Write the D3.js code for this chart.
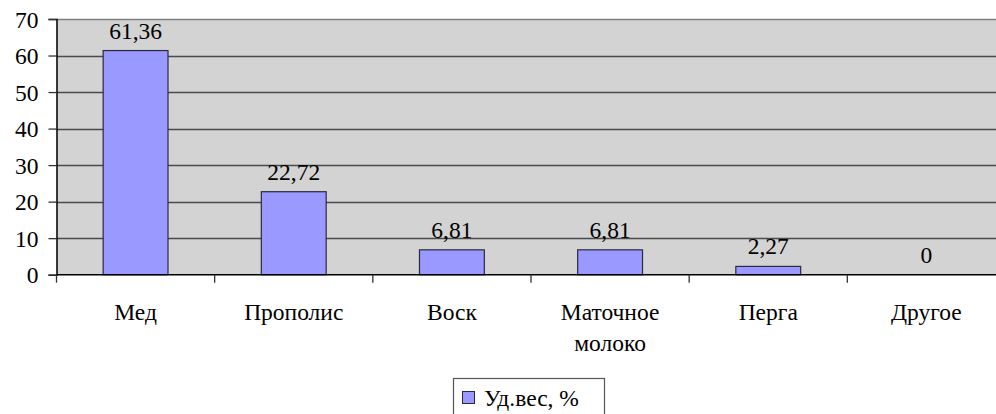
<!DOCTYPE html>
<html>
<head>
<meta charset="utf-8">
<script src="https://cdn.jsdelivr.net/npm/d3@7"></script>
<style>
  html, body { margin: 0; padding: 0; background: #fff; }
  svg { display: block; }
  svg text { font-family: "Liberation Serif", Tinos, "Times New Roman", Times, "DejaVu Serif", serif !important; fill: #000; }
</style>
</head>
<body>
<svg id="chart" width="996" height="414"></svg>
<script>
// Categories, values and axis ticks
const categories = ["Мед", "Прополис", "Воск", "Маточное молоко", "Перга", "Другое"];
const values = [61.36, 22.72, 6.81, 6.81, 2.27, 0];
const valueLabels = ["61,36", "22,72", "6,81", "6,81", "2,27", "0"];
const yTicks = [0, 10, 20, 30, 40, 50, 60, 70];
const seriesName = "Уд.вес, %";

const FONT = "'Liberation Serif', Tinos, 'Times New Roman', Times, 'DejaVu Serif', serif";
const FS = 23.5;

const svg = d3.select("#chart");
const plot = { left: 56.5, right: 1005.5, top: 19, bottom: 274.7 };

const x = d3.scaleBand()
  .domain(categories)
  .range([plot.left, plot.right])
  .paddingInner(0.59)
  .paddingOuter(0.295);
const step = x.step();

const y = d3.scaleLinear().domain([0, 70]).range([plot.bottom, plot.top]);

// Plot background
svg.append("rect")
  .attr("x", plot.left).attr("y", plot.top)
  .attr("width", plot.right - plot.left).attr("height", plot.bottom - plot.top)
  .attr("fill", "#d3d3d3");

// Horizontal gridlines
svg.append("g").selectAll("line")
  .data(yTicks.filter(d => d > 0))
  .join("line")
  .attr("x1", plot.left).attr("x2", plot.right)
  .attr("y1", d => Math.round(y(d)) + 0.5).attr("y2", d => Math.round(y(d)) + 0.5)
  .attr("stroke", d => d === 70 ? "#808080" : "#4a4a4a")
  .attr("stroke-width", 1.3);

// Bars
svg.append("g").selectAll("rect")
  .data(values)
  .join("rect")
  .attr("x", (d, i) => x(categories[i]))
  .attr("y", d => y(d))
  .attr("width", x.bandwidth())
  .attr("height", d => y(0) - y(d))
  .attr("fill", "#9999ff")
  .attr("stroke", "#2a2a40")
  .attr("stroke-width", 1.2);

// Value labels above bars
svg.append("g").selectAll("text")
  .data(values)
  .join("text")
  .attr("x", (d, i) => x(categories[i]) + x.bandwidth() / 2)
  .attr("y", d => y(d) - 12)
  .attr("text-anchor", "middle")
  .style("font-family", FONT)
  .style("font-size", FS + "px")
  .text((d, i) => valueLabels[i]);

// Y axis
const yAxis = svg.append("g")
  .attr("transform", `translate(${plot.left},0)`)
  .call(d3.axisLeft(y).tickValues(yTicks).tickSize(8).tickPadding(10).tickFormat(d3.format("d")));
yAxis.attr("font-family", null).attr("font-size", null);
yAxis.select(".domain").attr("stroke", "#000").attr("stroke-width", 1.5);
yAxis.selectAll(".tick line").attr("stroke", "#333").attr("stroke-width", 1.3);
yAxis.selectAll(".tick text")
  .style("font-family", FONT)
  .style("font-size", FS + "px")
  .attr("fill", "#000")
  .attr("dy", "0.35em");

// X axis line and ticks between categories
svg.append("line")
  .attr("x1", plot.left).attr("x2", plot.right)
  .attr("y1", plot.bottom).attr("y2", plot.bottom)
  .attr("stroke", "#000").attr("stroke-width", 1.5);
svg.append("g").selectAll("line")
  .data(d3.range(categories.length + 1))
  .join("line")
  .attr("x1", i => plot.left + i * step).attr("x2", i => plot.left + i * step)
  .attr("y1", plot.bottom).attr("y2", plot.bottom + 8)
  .attr("stroke", "#333").attr("stroke-width", 1.3);

// Category labels (two-word names wrap onto two lines)
const catG = svg.append("g");
categories.forEach(c => {
  const cx = x(c) + x.bandwidth() / 2;
  const words = c.split(" ");
  const t = catG.append("text")
    .attr("x", cx).attr("y", 320)
    .attr("text-anchor", "middle")
    .style("font-family", FONT)
    .style("font-size", FS + "px");
  words.forEach((w, k) => {
    t.append("tspan").attr("x", cx).attr("dy", k === 0 ? 0 : 31).text(w);
  });
});

// Legend
const lg = svg.append("g");
lg.append("rect")
  .attr("x", 453.5).attr("y", 378.5)
  .attr("width", 151).attr("height", 44)
  .attr("fill", "#fff").attr("stroke", "#555").attr("stroke-width", 1.2);
lg.append("rect")
  .attr("x", 462.5).attr("y", 391.5)
  .attr("width", 12).attr("height", 12)
  .attr("fill", "#9999ff").attr("stroke", "#2a2a40").attr("stroke-width", 1);
lg.append("text")
  .attr("x", 484).attr("y", 405.5)
  .style("font-family", FONT)
  .style("font-size", FS + "px")
  .text(seriesName);
</script>
</body>
</html>
